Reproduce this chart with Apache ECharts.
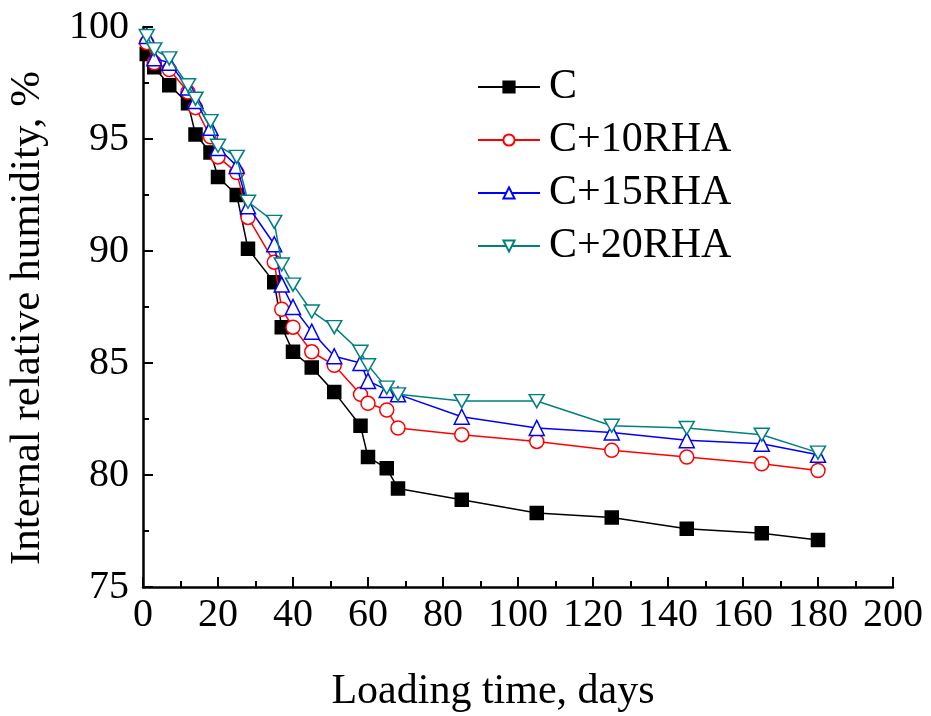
<!DOCTYPE html>
<html><head><meta charset="utf-8">
<script src="https://cdn.jsdelivr.net/npm/echarts@6/dist/echarts.min.js"></script>
<style>html,body{margin:0;padding:0;background:#fff}#c{width:931px;height:716px}</style>
</head><body><div id="c"></div>
<script>
const days = [1, 3, 7, 12, 14, 18, 20, 25, 28, 35, 37, 40, 45, 51, 58, 60, 65, 68, 85, 105, 125, 145, 165, 180];
const seriesNames = ['C', 'C+10RHA', 'C+15RHA', 'C+20RHA'];
const valC     = [98.8, 98.2, 97.4, 96.6, 95.2, 94.4, 93.3, 92.5, 90.1, 88.6, 86.6, 85.5, 84.8, 83.7, 82.2, 80.8, 80.3, 79.4, 78.9, 78.3, 78.1, 77.6, 77.4, 77.1];
const valC10   = [99.3, 98.4, 98.1, 97.1, 96.4, 95.1, 94.2, 93.5, 91.5, 89.5, 87.4, 86.6, 85.5, 84.9, 83.6, 83.2, 82.9, 82.1, 81.8, 81.5, 81.1, 80.8, 80.5, 80.2];
const valC15   = [99.6, 98.6, 98.4, 97.3, 96.7, 95.5, 94.6, 93.8, 92.0, 90.3, 88.5, 87.5, 86.4, 85.3, 85.0, 84.2, 83.8, 83.6, 82.6, 82.1, 81.9, 81.55, 81.4, 80.9];
const valC20   = [99.6, 99.0, 98.6, 97.4, 96.8, 95.8, 94.7, 94.2, 92.2, 91.3, 89.4, 88.5, 87.3, 86.6, 85.5, 84.9, 83.9, 83.6, 83.3, 83.3, 82.2, 82.1, 81.8, 81.0];
const xTicks = [0, 20, 40, 60, 80, 100, 120, 140, 160, 180, 200];
const yTicks = [75, 80, 85, 90, 95, 100];

const font = 'Liberation Serif';
const pairs = v => days.map((d, i) => [d, v[i]]);
const invTri = 'path://M0,0 L20,0 L10,17.3 Z';
const colors = ['#000000', '#ff0000', '#0000ff', '#008080'];
const symbols = ['rect', 'circle', 'triangle', invTri];
const sizes = [13, 14, 15, [15, 13]];
const vals = [valC, valC10, valC15, valC20];

const chart = echarts.init(document.getElementById('c'));
chart.setOption({
  animation: false,
  backgroundColor: '#fff',
  grid: { left: 143, right: 38, top: 27, bottom: 129, containLabel: false, outerBoundsMode: 'none' },
  legend: {
    orient: 'vertical', left: 472, top: 60,
    itemWidth: 62, itemHeight: 14, itemGap: 9,
    textStyle: { fontFamily: font, fontSize: 42, color: '#000', lineHeight: 44, padding: [0, 0, 0, 4] },
    data: seriesNames
  },
  xAxis: {
    type: 'value', min: 0, max: 200, interval: 20,
    name: 'Loading time, days', nameLocation: 'middle', nameGap: 84,
    nameTextStyle: { fontFamily: font, fontSize: 42, color: '#000', padding: [0, 50, 0, 0] },
    axisLine: { onZero: false, lineStyle: { color: '#000', width: 2.5 } },
    axisTick: { inside: true, length: 10, lineStyle: { color: '#000', width: 2 } },
    minorTick: { show: true, splitNumber: 2, length: 6, lineStyle: { color: '#000', width: 2 } },
    axisLabel: { fontFamily: font, fontSize: 40, color: '#000', margin: 8,
      formatter: v => xTicks.includes(v) ? String(v) : '' },
    splitLine: { show: false }
  },
  yAxis: {
    type: 'value', min: 75, max: 100, interval: 5,
    name: 'Internal relative humidity, %', nameLocation: 'middle', nameGap: 94,
    nameTextStyle: { fontFamily: font, fontSize: 43, color: '#000', padding: [0, 22, 0, 0] },
    axisLine: { show: true, onZero: false, lineStyle: { color: '#000', width: 2.5 } },
    axisTick: { show: true, inside: true, length: 10, lineStyle: { color: '#000', width: 2 } },
    minorTick: { show: true, splitNumber: 2, length: 6, lineStyle: { color: '#000', width: 2 } },
    axisLabel: { fontFamily: font, fontSize: 40, color: '#000', margin: 14,
      formatter: v => yTicks.includes(v) ? String(v) : '' },
    splitLine: { show: false }
  },
  series: seriesNames.map((n, i) => ({
    name: n, type: 'line', data: pairs(vals[i]),
    symbol: symbols[i], symbolSize: sizes[i], showAllSymbol: true,
    lineStyle: { color: colors[i], width: 1.5 },
    itemStyle: { color: i === 0 ? '#000' : '#fff', borderColor: colors[i], borderWidth: 1.5 },
    z: 2 + i
  }))
});
</script></body></html>
